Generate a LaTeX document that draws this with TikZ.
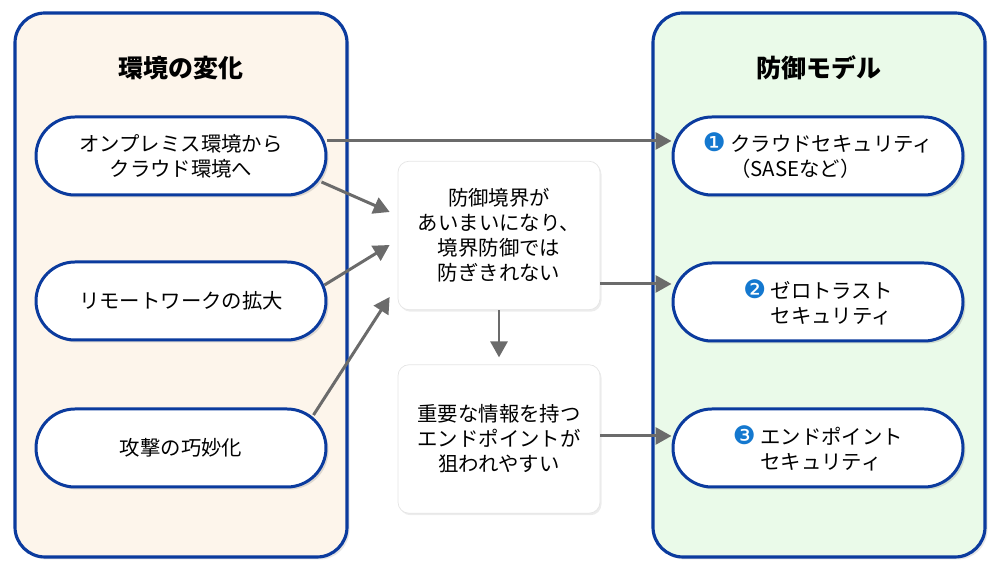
\documentclass[tikz,border=0pt]{standalone}
\usepackage{fontspec}
\setmainfont{Noto Sans CJK JP}
\newfontfamily\dingfont{DejaVu Sans}
\usetikzlibrary{arrows.meta,shadows}

\definecolor{edgeblue}{HTML}{0B3B9E}
\definecolor{numblue}{HTML}{1478CF}
\definecolor{peach}{HTML}{FDF5EB}
\definecolor{mint}{HTML}{EAFAE9}
\definecolor{arrowgray}{HTML}{6B6B6B}

\newcommand{\numdot}[1]{{\dingfont\fontsize{14.5}{14.2}\selectfont\color{numblue}#1}}

\tikzset{
    panel/.style={draw=edgeblue, line width=1.8pt, rounded corners=0.6cm,
        drop shadow={opacity=0.2, shadow xshift=0.05cm, shadow yshift=-0.05cm}},
    pill/.style={draw=edgeblue, fill=white, line width=1.7pt, rounded corners=0.78cm,
        minimum width=5.8cm, minimum height=1.56cm, inner sep=0pt, align=center,
        font=\fontsize{11.6}{14.2}\selectfont,
        drop shadow={opacity=0.25, shadow xshift=0.05cm, shadow yshift=-0.05cm}},
    midbox/.style={draw=black!10, fill=white, rounded corners=0.22cm,
        minimum width=4.04cm, minimum height=2.97cm, inner sep=0pt, align=center,
        font=\fontsize{11.6}{14.2}\selectfont,
        drop shadow={opacity=0.15, shadow xshift=0.03cm, shadow yshift=-0.04cm}},
    title/.style={font=\fontsize{14.2}{17}\selectfont\bfseries},
    arr/.style={draw=arrowgray, line width=1.7pt,
        -{Triangle[length=0.32cm, width=0.34cm]}, arrowgray}
}

\begin{document}
\begin{tikzpicture}
    \useasboundingbox (0,0) rectangle (20,11.5);

    % two panels
    \draw[panel, fill=peach] (0.30,0.36) rectangle (6.94,11.24);
    \draw[panel, fill=mint] (13.06,0.36) rectangle (19.70,11.24);
    \node[title] (tleft) at (3.62,10.14) {環境の変化};
    \node[title] (tright) at (16.38,10.14) {防御モデル};

    % changes
    \node[pill] (l1) at (3.62,8.38) {オンプレミス環境から\\クラウド環境へ};
    \node[pill] (l2) at (3.62,5.48) {リモートワークの拡大};
    \node[pill] (l3) at (3.62,2.54) {攻撃の巧妙化};

    % models
    \node[pill, align=left] (r1) at (16.36,8.38)
        {\numdot{❶} クラウドセキュリティ\\\hphantom{\numdot{❶} }（SASEなど）};
    \node[pill, align=left] (r2) at (16.36,5.46)
        {\numdot{❷} ゼロトラスト\\\hphantom{\numdot{❷} }セキュリティ};
    \node[pill, align=left] (r3) at (16.36,2.54)
        {\numdot{❸} エンドポイント\\\hphantom{\numdot{❸} }セキュリティ};

    % middle
    \node[midbox] (m1) at (9.98,6.79) {防御境界が\\あいまいになり、\\境界防御では\\防ぎきれない};
    \node[midbox] (m2) at (9.98,2.72) {重要な情報を持つ\\エンドポイントが\\狙われやすい};

    % arrows
    \coordinate (c1) at ([yshift=0.30cm]l1.east);
    \draw[arr] (c1) -- (c1 -| r1.west);
    \draw[arr] ([shift={(-0.12,-0.52)}]l1.east) -- ([shift={(-0.16,0.47)}]m1.west);
    \draw[arr] ([shift={(-0.06,0.32)}]l2.east) -- ([shift={(-0.16,-0.19)}]m1.west);
    \draw[arr] ([shift={(-0.28,0.66)}]l3.east) -- ([shift={(-0.16,-1.23)}]m1.west);
    \draw[arr, shorten >=0.14cm] (m1.south) -- (m2.north);
    \coordinate (c2) at ([yshift=-0.97cm]m1.east);
    \draw[arr] (c2) -- (c2 -| r2.west);
    \coordinate (c3) at ([yshift=0.06cm]m2.east);
    \draw[arr] (c3) -- (c3 -| r3.west);
\end{tikzpicture}
\end{document}
